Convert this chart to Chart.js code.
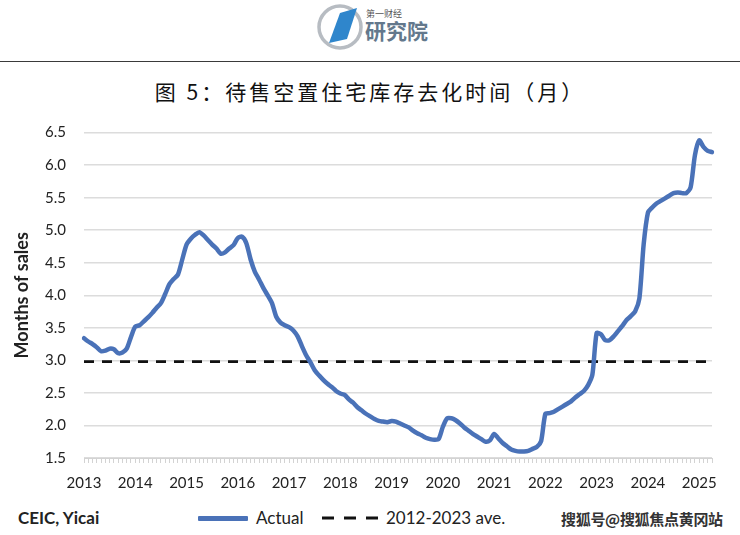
<!DOCTYPE html>
<html>
<head>
<meta charset="utf-8">
<script src="https://cdn.jsdelivr.net/npm/chart.js@4.4.1/dist/chart.umd.min.js"></script>
<style>
body { margin: 0; background: #fff; width: 740px; height: 535px; position: relative; overflow: hidden; font-family: Lato, 'Noto Sans', sans-serif; color: #222; }
#logo { position: absolute; left: 316px; top: 2px; }
.rule { position: absolute; left: 0; top: 61px; width: 740px; border-top: 1.5px solid #3a3a3a; }
.title { position: absolute; left: 0; top: 77px; width: 740px; text-align: center; font-family: 'Noto Sans CJK SC', sans-serif; font-size: 21px; line-height: 28px; letter-spacing: 3px; color: #111; }
#wrap { position: absolute; left: 0; top: 105px; width: 740px; height: 395px; }
.foot { position: absolute; top: 507px; font-size: 17px; line-height: 22px; }
.src { left: 18px; font-weight: 700; }
.sample { position: absolute; left: 198px; top: 516px; width: 50px; height: 5px; background: #4a72b8; border-radius: 1px; }
#dash { position: absolute; left: 322px; top: 515px; }
.mark { position: absolute; left: 561px; top: 508px; font-family: 'Noto Sans CJK SC', sans-serif; font-size: 15px; font-weight: 700; color: #333; letter-spacing: -0.3px; }
</style>
</head>
<body>

<svg id="logo" width="120" height="52" viewBox="0 0 120 52">
  <circle cx="24" cy="25" r="21" fill="none" stroke="#b7bcc2" stroke-width="3.5"/>
  <polygon points="13,41 24,11 41,6 31,37" fill="#2f86cc"/>
  <text x="50" y="15" font-size="9" fill="#555" font-family="Noto Sans CJK SC">第一财经</text>
  <text x="49" y="37" font-size="21" fill="#63788c" font-weight="700" font-family="Noto Sans CJK SC">研究院</text>
</svg>
<div class="rule"></div>
<div class="title">图 5：待售空置住宅库存去化时间（月）</div>

<div id="wrap"><canvas id="inventory-chart"></canvas></div>

<div class="foot src">CEIC, Yicai</div>
<div class="sample"></div>
<div class="foot" style="left:256px">Actual</div>
<svg id="dash" width="56" height="6"><line x1="0" y1="3" x2="56" y2="3" stroke="#111" stroke-width="3" stroke-dasharray="12 10"/></svg>
<div class="foot" style="left:386px">2012-2023 ave.</div>
<div class="mark">搜狐号@搜狐焦点黄冈站</div>

<script>
// year tick labels on the x axis
const yearTicks = ['2013', '2014', '2015', '2016', '2017', '2018', '2019', '2020', '2021', '2022', '2023', '2024', '2025'];
const lastMonth = 4; // series runs to April 2025

// months of sales, one array per year
const actual2013 = [3.34, 3.29, 3.25, 3.20, 3.14, 3.15, 3.18, 3.17, 3.11, 3.12, 3.18, 3.36];
const actual2014 = [3.52, 3.54, 3.60, 3.66, 3.73, 3.81, 3.88, 4.02, 4.17, 4.25, 4.32, 4.55];
const actual2015 = [4.78, 4.87, 4.93, 4.97, 4.92, 4.85, 4.78, 4.72, 4.64, 4.66, 4.72, 4.77];
const actual2016 = [4.88, 4.90, 4.80, 4.55, 4.36, 4.24, 4.11, 4.00, 3.88, 3.67, 3.58, 3.54];
const actual2017 = [3.51, 3.46, 3.37, 3.22, 3.08, 2.97, 2.85, 2.77, 2.70, 2.64, 2.59, 2.53];
const actual2018 = [2.49, 2.47, 2.40, 2.35, 2.28, 2.23, 2.18, 2.14, 2.10, 2.07, 2.06, 2.05];
const actual2019 = [2.07, 2.06, 2.03, 2.00, 1.97, 1.92, 1.88, 1.85, 1.81, 1.79, 1.78, 1.79];
const actual2020 = [1.98, 2.11, 2.11, 2.08, 2.03, 1.97, 1.92, 1.87, 1.83, 1.79, 1.75, 1.77];
const actual2021 = [1.87, 1.80, 1.73, 1.68, 1.63, 1.61, 1.60, 1.60, 1.61, 1.64, 1.67, 1.76];
const actual2022 = [2.18, 2.19, 2.21, 2.25, 2.29, 2.33, 2.37, 2.43, 2.48, 2.53, 2.62, 2.78];
const actual2023 = [3.42, 3.40, 3.31, 3.31, 3.37, 3.45, 3.53, 3.62, 3.68, 3.75, 3.95, 4.78];
const actual2024 = [5.27, 5.35, 5.41, 5.45, 5.49, 5.53, 5.57, 5.58, 5.57, 5.57, 5.66, 6.15];
const actual2025 = [6.38, 6.28, 6.22, 6.20];

// 2012-2023 average
const aveValue = 2.98;

// monthly categories
const months = [];
yearTicks.forEach(y => {
    for (let m = 1; m <= 12; m++) {
        if (y === '2025' && m > lastMonth) break;
        months.push(y + '-' + String(m).padStart(2, '0'));
    }
});

const actual = [].concat(actual2013, actual2014, actual2015, actual2016, actual2017, actual2018,
    actual2019, actual2020, actual2021, actual2022, actual2023, actual2024, actual2025);
const aveLine = months.map(() => aveValue);

Chart.defaults.font.family = 'Lato, "Noto Sans", sans-serif';
Chart.defaults.color = '#222';

let inventoryCanvas = document.getElementById('inventory-chart');

let inventoryChart = new Chart(inventoryCanvas, {
    type: 'line',
    data: {
        labels: months,
        datasets: [{
            label: 'Actual',
            data: actual,
            borderColor: '#4a72b8',
            borderWidth: 4.5,
            pointRadius: 0,
            tension: 0.25,
            borderCapStyle: 'round',
            borderJoinStyle: 'round'
        }, {
            label: '2012-2023 ave.',
            data: aveLine,
            borderColor: '#111',
            borderWidth: 2.8,
            borderDash: [10, 8],
            pointRadius: 0
        }]
    },
    options: {
        responsive: true,
        maintainAspectRatio: false,
        animation: false,
        layout: {
            padding: { top: 27.6, right: 28, bottom: 0, left: 0 }
        },
        plugins: {
            legend: { display: false },
            tooltip: { enabled: false }
        },
        scales: {
            x: {
                offset: false,
                grid: {
                    display: true,
                    drawOnChartArea: false,
                    tickLength: 5,
                    color: '#d3d3d3'
                },
                border: { color: '#d3d3d3', width: 1 },
                ticks: {
                    autoSkip: false,
                    maxRotation: 0,
                    padding: 11,
                    font: { size: 15 },
                    callback: (value, index) => months[index].endsWith('-01') ? months[index].slice(0, 4) : ''
                },
                afterFit: scale => { scale.height = 42; }
            },
            y: {
                min: 1.5,
                max: 6.5,
                ticks: {
                    stepSize: 0.5,
                    padding: 18,
                    font: { size: 15 },
                    callback: value => value.toFixed(1)
                },
                grid: { color: '#dcdcdc', lineWidth: 1.5, drawTicks: false },
                border: { display: false },
                title: {
                    display: true,
                    text: 'Months of sales',
                    font: { size: 18, weight: 'bold' },
                    padding: { top: 11, bottom: 0 }
                },
                afterFit: scale => { scale.width = 84; }
            }
        }
    }
});
</script>
</body>
</html>
